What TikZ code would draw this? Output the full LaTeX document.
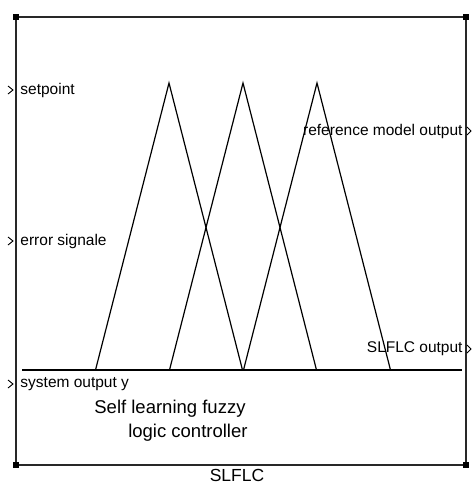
\documentclass[tikz,border=0pt]{standalone}
\usepackage{fontspec}
\setmainfont{Liberation Sans}
\usetikzlibrary{positioning}
\definecolor{fg}{RGB}{0,0,0}
\definecolor{frame}{RGB}{40,40,40}
\tikzset{
  every picture/.style={fg, line width=0.9pt, line cap=butt, line join=miter},
  % Linien
  blockframe/.style={frame, line width=1.5pt},
  mf/.style={line width=1.2pt},
  axisline/.style={line width=1.5pt},
  % Ports und Ecken
  portmark/.style={line width=0.9pt},
  corner/.style={fill=fg, minimum size=6pt, inner sep=0pt},
  % Schrift
  portlbl/.style={inner sep=0pt, font=\fontsize{15.5}{15.5}\selectfont},
  txt/.style={inner sep=0pt, font=\fontsize{18.5}{18.5}\selectfont},
}
\begin{document}
\begin{tikzpicture}[x=1pt, y=-1pt]
  \useasboundingbox (0,0) rectangle (472,485);
  % Blockrahmen mit Eckmarken
  \coordinate (tl) at (16,17);
  \coordinate (tr) at (466,17);
  \coordinate (br) at (466,465);
  \coordinate (bl) at (16,465);
  \draw[blockframe] (tl) -- (tr) -- (br) -- (bl) -- cycle;
  \foreach \k in {tl,tr,br,bl}
    \node[corner] at (\k) {};
  % Zugehoerigkeitsfunktionen (Dreiecke)
  \def\hw{73.5}
  \foreach \c in {169,243,317} {
    \coordinate (l\c) at (\c-\hw,370);
    \coordinate (p\c) at (\c,83);
    \coordinate (r\c) at (\c+\hw,370);
    \draw[mf] (l\c) -- (p\c) -- (r\c);
  }
  % Grundlinie
  \coordinate (ax0) at (22,370);
  \coordinate (ax1) at (462,370);
  \draw[axisline] (ax0) -- (ax1);
  % Eingaenge
  \foreach \y/\t [count=\i] in {90/setpoint, 241/error signale, 384/system output y} {
    \draw[portmark] (8,\y-4) -- (13,\y) -- (8,\y+4);
    \node[portlbl, anchor=west] (in\i) at (20,\y) {\t};
  }
  % Ausgaenge
  \foreach \y/\t [count=\i] in {131/reference model output, 349/SLFLC output} {
    \draw[portmark] (467,\y-4) -- (471,\y) -- (467,\y+4);
    \node[portlbl, anchor=east] (out\i) at (463,\y) {\t};
  }
  % Beschriftung
  \node[txt, anchor=east] (desc1) at (246,409) {Self learning fuzzy};
  \node[txt, anchor=east] (desc2) at (248,433) {logic controller};
  \node[txt, font=\fontsize{17.5}{17.5}\selectfont] (name) at (237,475.5) {SLFLC};
\end{tikzpicture}
\end{document}
